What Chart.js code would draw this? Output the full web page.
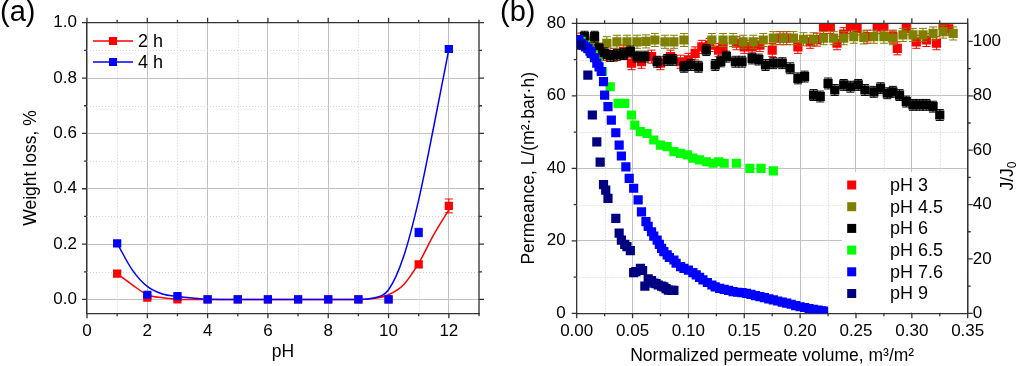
<!DOCTYPE html>
<html>
<head>
<meta charset="utf-8">
<script src="https://cdn.jsdelivr.net/npm/chart.js@4.4.1/dist/chart.umd.min.js"></script>
<style>
body { margin: 0; background: #fff; width: 1024px; height: 366px; overflow: hidden; position: relative; font-family: "Liberation Sans", Arial, sans-serif; }
canvas { position: absolute; top: 0; }
#chartA { left: 0; }
#chartB { left: 490px; }
.panel { position: absolute; top: -3px; font-size: 29px; line-height: 29px; color: #000; }
</style>
</head>
<body>
<canvas id="chartA" width="490" height="366"></canvas>
<canvas id="chartB" width="534" height="366"></canvas>
<div class="panel" style="left:0">(a)</div>
<div class="panel" style="left:500px">(b)</div>
<script>
// (a) weight loss vs pH
const phValues = [1, 2, 3, 4, 5, 6, 7, 8, 9, 10, 11, 12];
const loss2h = [0.093, 0.007, 0.0, 0, 0, 0, 0, 0, 0, 0, 0.127, 0.338];
const err2h = [0.01, 0.005, 0.004, 0, 0, 0, 0, 0, 0, 0, 0.01, 0.025];
const loss4h = [0.203, 0.017, 0.012, 0, 0, 0, 0, 0, 0, 0, 0.242, 0.905];
const err4h = [0.01, 0.008, 0.008, 0, 0, 0, 0, 0, 0, 0, 0.015, 0.01];
// fitted curves
const fitPh = [1, 1.5, 2, 2.5, 3, 3.5, 4, 5, 6, 7, 8, 9, 9.5, 10, 10.5, 11, 11.5, 12];
const fit2h = [0.093, 0.053, 0.017, 0.006, 0.001, 0, 0, 0, 0, 0, 0, 0, 0.003, 0.017, 0.053, 0.131, 0.234, 0.324];
const fit4h = [0.203, 0.107, 0.047, 0.02, 0.011, 0.005, 0.001, 0, 0, 0, 0, 0, 0.005, 0.035, 0.155, 0.36, 0.625, 0.904];

// (b) permeance vs normalized permeate volume
const ph3Vol = [0.004, 0.008, 0.012, 0.016, 0.020, 0.024, 0.033, 0.042, 0.049, 0.058, 0.067, 0.075, 0.084, 0.093, 0.100, 0.106, 0.112, 0.119, 0.127, 0.131, 0.143, 0.150, 0.157, 0.164, 0.175, 0.182, 0.188, 0.198, 0.209, 0.215, 0.221, 0.227, 0.233, 0.239, 0.245, 0.251, 0.260, 0.269, 0.275, 0.283, 0.287, 0.295, 0.304, 0.313, 0.322, 0.328, 0.333];
const ph3Perm = [75.5, 74.5, 73.0, 72.0, 72.5, 71.5, 71.3, 72.2, 69.0, 69.4, 70.8, 69.0, 70.8, 69.4, 69.9, 71.7, 73.5, 74.0, 72.6, 73.5, 74.5, 73.5, 73.5, 74.0, 72.6, 75.9, 75.9, 73.5, 74.9, 75.5, 79.0, 79.0, 74.5, 77.0, 79.0, 78.6, 76.3, 79.0, 79.0, 76.3, 73.1, 78.6, 74.9, 75.4, 74.5, 79.5, 78.5];
const ph45Vol = [0.005, 0.010, 0.016, 0.027, 0.036, 0.045, 0.054, 0.062, 0.070, 0.079, 0.087, 0.096, 0.121, 0.131, 0.140, 0.149, 0.158, 0.167, 0.176, 0.185, 0.194, 0.203, 0.212, 0.221, 0.230, 0.239, 0.248, 0.257, 0.266, 0.275, 0.283, 0.292, 0.301, 0.310, 0.319, 0.328, 0.337];
const ph45Perm = [75.5, 75.0, 74.5, 74.5, 74.9, 74.9, 74.9, 75.0, 75.4, 74.9, 74.9, 75.4, 75.4, 75.4, 75.4, 74.9, 74.9, 75.4, 75.9, 75.9, 75.9, 75.6, 75.6, 75.9, 75.9, 75.9, 76.3, 76.1, 76.3, 76.3, 75.9, 76.8, 76.8, 76.8, 77.2, 77.7, 77.2];
const ph6Vol = [0.004, 0.007, 0.016, 0.020, 0.025, 0.030, 0.036, 0.042, 0.048, 0.054, 0.061, 0.072, 0.081, 0.086, 0.096, 0.102, 0.109, 0.116, 0.124, 0.129, 0.134, 0.142, 0.148, 0.157, 0.163, 0.169, 0.176, 0.184, 0.191, 0.198, 0.204, 0.212, 0.218, 0.225, 0.231, 0.239, 0.245, 0.252, 0.258, 0.266, 0.272, 0.278, 0.283, 0.289, 0.295, 0.301, 0.307, 0.313, 0.319, 0.325];
const ph6Perm = [75.0, 76.3, 76.3, 73.0, 71.7, 71.0, 71.3, 71.5, 72.2, 70.8, 70.8, 69.4, 69.9, 69.9, 68.0, 68.5, 68.0, 72.6, 68.5, 69.5, 70.8, 69.4, 69.4, 70.3, 70.0, 68.5, 69.0, 69.0, 67.6, 64.8, 65.3, 60.2, 59.8, 63.4, 61.6, 63.0, 62.5, 63.0, 61.6, 61.1, 62.1, 60.7, 61.1, 60.2, 58.4, 57.5, 57.5, 57.5, 57.0, 54.7];
const ph65Vol = [0.004, 0.008, 0.012, 0.015, 0.019, 0.023, 0.030, 0.037, 0.043, 0.049, 0.052, 0.057, 0.063, 0.069, 0.075, 0.081, 0.087, 0.093, 0.099, 0.104, 0.110, 0.116, 0.122, 0.127, 0.132, 0.143, 0.155, 0.165, 0.176];
const ph65Perm = [75.0, 74.0, 72.5, 71.3, 69.4, 66.7, 62.5, 57.9, 57.9, 54.7, 51.9, 50.1, 49.6, 47.8, 46.4, 46.0, 44.6, 44.1, 43.7, 42.8, 42.3, 41.8, 41.4, 41.8, 41.4, 41.4, 40.0, 40.0, 39.3];
const ph76Vol = [0.002, 0.004, 0.006, 0.008, 0.010, 0.012, 0.013, 0.016, 0.018, 0.020, 0.022, 0.024, 0.025, 0.028, 0.031, 0.035, 0.038, 0.040, 0.044, 0.047, 0.051, 0.055, 0.058, 0.062, 0.064, 0.067, 0.069, 0.072, 0.074, 0.076, 0.078, 0.081, 0.083, 0.087, 0.089, 0.093, 0.096, 0.100, 0.104, 0.107, 0.110, 0.113, 0.117, 0.121, 0.124, 0.128, 0.132, 0.136, 0.140, 0.144, 0.148, 0.152, 0.156, 0.160, 0.164, 0.168, 0.172, 0.176, 0.180, 0.184, 0.188, 0.192, 0.196, 0.200, 0.204, 0.208, 0.212, 0.216, 0.219, 0.221];
const ph76Perm = [75.5, 74.5, 74.0, 73.5, 73.0, 72.3, 71.7, 70.5, 69.0, 68.0, 66.7, 63.9, 60.2, 57.0, 53.3, 49.8, 46.4, 43.4, 40.4, 37.2, 34.5, 31.3, 28.0, 25.3, 24.0, 22.5, 21.3, 20.2, 19.0, 17.9, 17.0, 16.1, 15.4, 14.7, 13.8, 12.9, 12.4, 11.9, 11.2, 10.6, 9.9, 9.2, 8.5, 7.8, 7.3, 6.9, 6.6, 6.3, 6.0, 5.8, 5.7, 5.5, 5.2, 4.9, 4.6, 4.3, 4.0, 3.7, 3.4, 3.1, 2.8, 2.5, 2.1, 1.8, 1.6, 1.3, 1.1, 0.9, 0.7, 0.6];
const ph9Vol = [0.004, 0.010, 0.014, 0.018, 0.021, 0.024, 0.026, 0.028, 0.035, 0.038, 0.040, 0.043, 0.045, 0.048, 0.051, 0.053, 0.057, 0.059, 0.061, 0.064, 0.067, 0.069, 0.071, 0.073, 0.076, 0.078, 0.080, 0.082, 0.085, 0.087];
const ph9Perm = [74.0, 65.7, 54.7, 47.3, 41.7, 35.5, 34.0, 31.7, 26.2, 22.1, 20.2, 19.0, 18.4, 17.3, 11.2, 11.5, 12.4, 11.8, 7.5, 9.5, 9.0, 8.3, 8.2, 7.8, 7.5, 7.3, 6.8, 6.4, 6.3, 6.3];
const ph3Err = 1.8;
const ph45Err = 1.8;
const ph6Err = 1.5;
const j0 = 75; // permeance giving J/J0 = 100

const pts = (xs, ys) => xs.map((x, i) => ({ x: x, y: ys[i] }));

Chart.defaults.font.family = '"Liberation Sans", Arial, sans-serif';
Chart.defaults.color = '#000';

function stepValues(min, max, step) {
    const out = [];
    for (let k = Math.ceil(min / step - 1e-9); k * step <= max + 1e-9; k++) out.push(+(k * step).toFixed(6));
    return out;
}
function isMultiple(v, step) {
    const r = v / step;
    return Math.abs(r - Math.round(r)) < 1e-6;
}

// minor dotted grid, error bars, mirrored ticks, legend
const framePlugin = {
    id: 'frame',
    beforeDatasetsDraw(chart, args, opts) {
        const { ctx, chartArea: a } = chart;
        const x = chart.scales.x, y = chart.scales.y;
        ctx.save();
        ctx.strokeStyle = '#d2d2d2';
        ctx.lineWidth = 1;
        ctx.setLineDash([1, 2]);
        ctx.beginPath();
        stepValues(x.min, x.max, opts.xMinor).filter(v => !isMultiple(v, opts.xMajor)).forEach(v => {
            const px = Math.round(x.getPixelForValue(v)) + 0.5;
            ctx.moveTo(px, a.top); ctx.lineTo(px, a.bottom);
        });
        stepValues(y.min, y.max, opts.yMinor).filter(v => !isMultiple(v, opts.yMajor)).forEach(v => {
            const py = Math.round(y.getPixelForValue(v)) + 0.5;
            ctx.moveTo(a.left, py); ctx.lineTo(a.right, py);
        });
        ctx.stroke();
        ctx.setLineDash([]);
        if (opts.box) {
            ctx.fillStyle = '#fff';
            ctx.fillRect(opts.box.x, opts.box.y, opts.box.w, opts.box.h);
        }
        ctx.restore();
    },
    beforeDatasetDraw(chart, args) {
        const ds = chart.data.datasets[args.index];
        if (ds.errors === undefined) return;
        const xs = chart.scales[args.meta.xAxisID], ys = chart.scales[args.meta.yAxisID];
        const { ctx, chartArea: a } = chart;
        ctx.save();
        ctx.beginPath();
        ctx.rect(a.left, a.top, a.right - a.left, a.bottom - a.top);
        ctx.clip();
        ctx.strokeStyle = ds.borderColor;
        ctx.lineWidth = 1;
        ctx.beginPath();
        ds.data.forEach((p, i) => {
            const e = Array.isArray(ds.errors) ? ds.errors[i] : ds.errors;
            if (!e) return;
            const px = xs.getPixelForValue(p.x);
            const t = ys.getPixelForValue(p.y + e), b = ys.getPixelForValue(p.y - e);
            ctx.moveTo(px, t); ctx.lineTo(px, b);
            ctx.moveTo(px - 4, t); ctx.lineTo(px + 4, t);
            ctx.moveTo(px - 4, b); ctx.lineTo(px + 4, b);
        });
        ctx.stroke();
        ctx.restore();
    },
    afterDraw(chart, args, opts) {
        const { ctx, chartArea: a } = chart;
        const x = chart.scales.x, y = chart.scales.y, y2 = chart.scales.y2;
        const len = (v, step) => isMultiple(v, step) ? 5 : 3;
        ctx.save();
        ctx.strokeStyle = '#333';
        ctx.lineWidth = 1.3;
        ctx.beginPath();
        ctx.moveTo(a.left, a.top); ctx.lineTo(a.right, a.top); ctx.lineTo(a.right, a.bottom);
        stepValues(x.min, x.max, opts.xMinor).forEach(v => {
            const px = x.getPixelForValue(v), l = len(v, opts.xMajor);
            ctx.moveTo(px, a.bottom); ctx.lineTo(px, a.bottom + l);
            ctx.moveTo(px, a.top); ctx.lineTo(px, a.top - l);
        });
        stepValues(y.min, y.max, opts.yMinor).forEach(v => {
            const py = y.getPixelForValue(v), l = len(v, opts.yMajor);
            ctx.moveTo(a.left, py); ctx.lineTo(a.left - l, py);
            if (!y2) { ctx.moveTo(a.right, py); ctx.lineTo(a.right + l, py); }
        });
        if (y2) {
            stepValues(y2.min, y2.max, opts.y2Minor).forEach(v => {
                const py = y2.getPixelForValue(v), l = len(v, opts.y2Major);
                ctx.moveTo(a.right, py); ctx.lineTo(a.right + l, py);
            });
        }
        ctx.stroke();

        const lg = opts.legend;
        if (lg) {
            ctx.font = '18px "Liberation Sans", Arial, sans-serif';
            ctx.textBaseline = 'middle';
            ctx.textAlign = 'left';
            chart.data.datasets.filter(d => d.label).forEach((d, i) => {
                const cy = lg.y + i * lg.dy;
                if (lg.len) {
                    ctx.strokeStyle = d.borderColor;
                    ctx.lineWidth = 1.5;
                    ctx.beginPath();
                    ctx.moveTo(lg.x - lg.len / 2, cy); ctx.lineTo(lg.x + lg.len / 2, cy);
                    ctx.stroke();
                }
                ctx.fillStyle = d.backgroundColor;
                ctx.fillRect(lg.x - lg.size / 2, cy - lg.size / 2, lg.size, lg.size);
                ctx.fillStyle = '#000';
                ctx.fillText(d.label, lg.textX, cy + 1);
            });
        }

        const rt = opts.rightTitle;
        if (rt) {
            ctx.translate(rt.x, rt.y);
            ctx.rotate(-Math.PI / 2);
            ctx.fillStyle = '#000';
            ctx.textBaseline = 'middle';
            ctx.textAlign = 'left';
            ctx.font = '17.5px "Liberation Sans", Arial, sans-serif';
            const w = ctx.measureText(rt.text).width;
            ctx.font = '12px "Liberation Sans", Arial, sans-serif';
            const ws = ctx.measureText(rt.sub).width;
            const start = -(w + ws) / 2;
            ctx.font = '17.5px "Liberation Sans", Arial, sans-serif';
            ctx.fillText(rt.text, start, 0);
            ctx.font = '12px "Liberation Sans", Arial, sans-serif';
            ctx.fillText(rt.sub, start + w, 5);
        }
        ctx.restore();
    }
};

const tickFont = { size: 17 };
const titleFont = { size: 17.5, lineHeight: 1 };
const gridStyle = { color: '#c2c2c2', lineWidth: 1, drawTicks: false };
const borderStyle = { color: '#333', width: 1.3 };

new Chart(document.getElementById('chartA'), {
    type: 'scatter',
    data: {
        datasets: [
            { label: '', data: pts(fitPh, fit2h), showLine: true, borderColor: '#ff0000', borderWidth: 1.5, pointRadius: 0, cubicInterpolationMode: 'monotone', order: 4 },
            { label: '', data: pts(fitPh, fit4h), showLine: true, borderColor: '#0000ff', borderWidth: 1.5, pointRadius: 0, cubicInterpolationMode: 'monotone', order: 3 },
            { label: '2 h', data: pts(phValues, loss2h), errors: err2h, backgroundColor: '#ff0000', borderColor: '#ff0000', pointStyle: 'rect', pointRadius: 5.8, pointBorderWidth: 0, order: 2 },
            { label: '4 h', data: pts(phValues, loss4h), errors: err4h, backgroundColor: '#0000ff', borderColor: '#0000ff', pointStyle: 'rect', pointRadius: 5.8, pointBorderWidth: 0, order: 1 }
        ]
    },
    options: {
        responsive: false,
        animation: false,
        events: [],
        layout: { padding: { top: 22.7, right: 11, left: 0, bottom: 0 } },
        plugins: {
            legend: { display: false },
            tooltip: { enabled: false },
            frame: { xMajor: 2, xMinor: 1, yMajor: 0.2, yMinor: 0.1, legend: { x: 113, y: 41, dy: 21, len: 40, size: 8, textX: 138 } }
        },
        scales: {
            x: {
                type: 'linear', min: 0, max: 13,
                afterFit: s => { s.height = 52.7; },
                ticks: { stepSize: 2, includeBounds: false, padding: 8, maxRotation: 0, font: tickFont, color: '#000' },
                grid: gridStyle, border: borderStyle,
                title: { display: true, text: 'pH', color: '#000', font: titleFont, padding: { top: 0, bottom: 5.3 } }
            },
            y: {
                min: -0.05, max: 1.0,
                afterFit: s => { s.width = 87; },
                ticks: { stepSize: 0.2, includeBounds: false, padding: 10, font: tickFont, color: '#000', callback: v => v.toFixed(1) },
                grid: gridStyle, border: borderStyle,
                title: { display: true, text: 'Weight loss, %', color: '#000', font: titleFont, padding: { top: 22.3, bottom: 0 } }
            }
        }
    },
    plugins: [framePlugin]
});

const sq = { pointStyle: 'rect', pointRadius: 6.5, pointBorderWidth: 0 };

new Chart(document.getElementById('chartB'), {
    type: 'scatter',
    data: {
        datasets: [
            Object.assign({ label: 'pH 3', data: pts(ph3Vol, ph3Perm), errors: ph3Err, backgroundColor: '#ff0000', borderColor: '#ff0000', order: 6 }, sq),
            Object.assign({ label: 'pH 4.5', data: pts(ph45Vol, ph45Perm), errors: ph45Err, backgroundColor: '#808000', borderColor: '#808000', order: 5 }, sq),
            Object.assign({ label: 'pH 6', data: pts(ph6Vol, ph6Perm), errors: ph6Err, backgroundColor: '#000000', borderColor: '#000000', order: 4 }, sq),
            Object.assign({ label: 'pH 6.5', data: pts(ph65Vol, ph65Perm), backgroundColor: '#00ff00', borderColor: '#00ff00', order: 3 }, sq),
            Object.assign({ label: 'pH 7.6', data: pts(ph76Vol, ph76Perm), backgroundColor: '#0000ff', borderColor: '#0000ff', order: 2 }, sq),
            Object.assign({ label: 'pH 9', data: pts(ph9Vol, ph9Perm), backgroundColor: '#000080', borderColor: '#000080', order: 1 }, sq)
        ]
    },
    options: {
        responsive: false,
        animation: false,
        events: [],
        layout: { padding: { top: 23.3, right: 0, left: 0, bottom: 0 } },
        plugins: {
            legend: { display: false },
            tooltip: { enabled: false },
            frame: {
                xMajor: 0.05, xMinor: 0.025, yMajor: 20, yMinor: 10, y2Major: 20, y2Minor: 10,
                box: { x: 352, y: 172, w: 125, h: 140 },
                legend: { x: 361.7, y: 185, dy: 21.7, size: 9, textX: 400 },
                rightTitle: { text: 'J/J', sub: '0', x: 518, y: 176 }
            }
        },
        scales: {
            x: {
                type: 'linear', min: 0, max: 0.35,
                afterFit: s => { s.height = 52.7; },
                ticks: { stepSize: 0.05, includeBounds: false, padding: 8, maxRotation: 0, autoSkip: false, font: tickFont, color: '#000', callback: v => v.toFixed(2) },
                grid: gridStyle, border: borderStyle,
                title: { display: true, text: 'Normalized permeate volume, m\u00b3/m\u00b2', color: '#000', font: titleFont, padding: { top: 0, bottom: 0.6 } }
            },
            y: {
                position: 'left', min: 0, max: 80,
                afterFit: s => { s.width = 86.7; },
                ticks: { stepSize: 20, padding: 11, font: tickFont, color: '#000' },
                grid: gridStyle, border: borderStyle,
                title: { display: true, text: 'Permeance, L/(m\u00b2\u00b7bar\u00b7h)', color: '#000', font: titleFont, padding: { top: 30.3, bottom: 0 } }
            },
            y2: {
                position: 'right', min: 0, max: 80 / j0 * 100,
                afterFit: s => { s.width = 56.3; },
                ticks: { stepSize: 20, includeBounds: false, padding: 5, font: tickFont, color: '#000' },
                grid: { drawOnChartArea: false, drawTicks: false },
                border: borderStyle
            }
        }
    },
    plugins: [framePlugin]
});
</script>
</body>
</html>
